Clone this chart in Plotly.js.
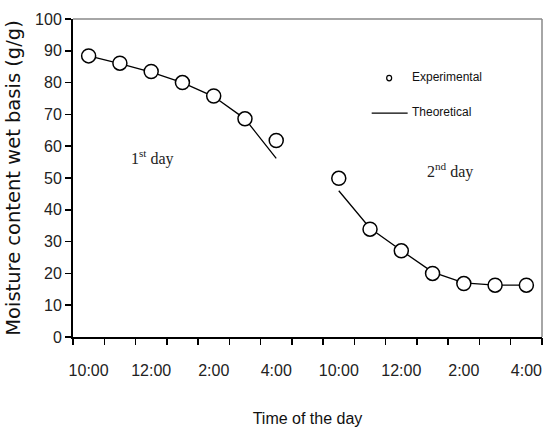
<!DOCTYPE html>
<html>
<head>
<meta charset="utf-8">
<script src="https://cdn.plot.ly/plotly-3.0.1.min.js"></script>
<style>html,body{margin:0;padding:0;background:#fff;}#chart{width:544px;height:432px;}</style>
</head>
<body>
<div id="chart"></div>
<script>
// Time slots (hourly) for each day
var day1Times = ['10:00','11:00','12:00','1:00','2:00','3:00','4:00'];
var day2Times = ['10:00','11:00','12:00','1:00','2:00','3:00','4:00'];
// Experimental moisture content (g/g)
var day1Exp = [88.4, 86.1, 83.5, 80.0, 75.8, 68.6, 61.8];
var day2Exp = [49.9, 33.9, 27.1, 20.0, 16.8, 16.3, 16.3];
// Theoretical moisture content (g/g)
var day1Theo = [88.4, 86.0, 83.3, 80.0, 75.6, 68.6, 56.2];
var day2Theo = [46.0, 34.2, 27.2, 20.4, 17.0, 16.3, 16.3];
// Axis tick labels
var tickLabels = ['10:00','12:00','2:00','4:00','10:00','12:00','2:00','4:00'];
var yTicks = [0,10,20,30,40,50,60,70,80,90,100];

// slot positions: day 1 at 0..6, gap at 7, day 2 at 8..14
var x1 = day1Times.map(function(_, i){ return i; });
var x2 = day2Times.map(function(_, i){ return i + day1Times.length + 1; });
var tickPos = tickLabels.map(function(_, i){ return i * 2; });
var boundaries = [];
for (var b = -0.5; b <= 14.5; b += 1) boundaries.push(b);

var lineStyle = {color: '#000', width: 1.3};
var markerStyle = {symbol: 'circle', size: 14, color: '#fff', line: {color: '#000', width: 1.5}};

var traces = [
  {x: x1, y: day1Theo, mode: 'lines', line: lineStyle, showlegend: false, hoverinfo: 'skip'},
  {x: x2, y: day2Theo, mode: 'lines', line: lineStyle, showlegend: false, hoverinfo: 'skip'},
  {x: x1, y: day1Exp, mode: 'markers', marker: markerStyle, showlegend: false},
  {x: x2, y: day2Exp, mode: 'markers', marker: markerStyle, showlegend: false},
  {x: [0], y: [0], xaxis: 'x2', mode: 'markers', marker: {opacity: 0}, showlegend: false, hoverinfo: 'skip'}
];

var sans = '"Liberation Sans", Arial, sans-serif';
var tickFont = {family: sans, size: 16, color: '#222'};

var layout = {
  width: 544, height: 432,
  margin: {l: 73, r: 1.5, t: 19, b: 95},
  paper_bgcolor: '#fff', plot_bgcolor: '#fff',
  showlegend: false,
  xaxis: {
    range: [-0.5, 14.5], tickmode: 'array', tickvals: tickPos, ticktext: tickLabels,
    ticks: '', showgrid: false, zeroline: false,
    showline: true, linecolor: '#000', linewidth: 2,
    tickfont: tickFont, ticklabelstandoff: 18,
    title: {text: 'Time of the day', font: {family: sans, size: 16, color: '#111'}, standoff: 35}
  },
  xaxis2: {
    overlaying: 'x', range: [-0.5, 14.5], tickmode: 'array', tickvals: boundaries,
    ticks: 'outside', ticklen: 7, tickwidth: 1.5, tickcolor: '#000',
    showticklabels: false, showgrid: false, zeroline: false, showline: false, side: 'bottom'
  },
  yaxis: {
    range: [0, 100], tickmode: 'array', tickvals: yTicks,
    ticks: 'outside', ticklen: 6, tickwidth: 1.5, tickcolor: '#000',
    showgrid: false, zeroline: false, showline: true, linecolor: '#000', linewidth: 2,
    tickfont: tickFont, ticklabelstandoff: 0,
    title: {text: 'Moisture content wet basis (g/g)', font: {family: '"DejaVu Sans", Arial, sans-serif', size: 19.5, color: '#111'}, standoff: 9}
  },
  shapes: [
    {type: 'line', xref: 'paper', yref: 'paper', x0: 0, x1: 1, y0: 1, y1: 1, line: {color: '#888', width: 1.5}},
    {type: 'line', xref: 'paper', yref: 'paper', x0: 1, x1: 1, y0: 0, y1: 1, line: {color: '#888', width: 1.5}},
    // legend symbols
    {type: 'circle', xref: 'paper', yref: 'paper', x0: (387 - 73) / 469.5, x1: (392 - 73) / 469.5, y0: (336.7 - 81) / 317.4, y1: (336.7 - 75.5) / 317.4, line: {color: '#000', width: 1.2}, fillcolor: '#fff'},
    {type: 'line', xref: 'paper', yref: 'paper', x0: (372 - 73) / 469.5, x1: (408 - 73) / 469.5, y0: (336.7 - 113.3) / 317.4, y1: (336.7 - 113.3) / 317.4, line: {color: '#000', width: 1.3}}
  ],
  annotations: [
    {xref: 'paper', yref: 'paper', x: (410 - 73) / 469.5, y: (336.7 - 77.5) / 317.4, xanchor: 'left', yanchor: 'middle', showarrow: false,
     text: 'Experimental', font: {family: sans, size: 12, color: '#111'}},
    {xref: 'paper', yref: 'paper', x: (410 - 73) / 469.5, y: (336.7 - 112.5) / 317.4, xanchor: 'left', yanchor: 'middle', showarrow: false,
     text: 'Theoretical', font: {family: sans, size: 12, color: '#111'}},
    {xref: 'paper', yref: 'paper', x: (153 - 73) / 469.5, y: (336.7 - 158) / 317.4, xanchor: 'center', yanchor: 'middle', showarrow: false,
     text: '1<sup>st</sup> day', font: {family: '"Liberation Serif", "Times New Roman", serif', size: 16, color: '#222'}},
    {xref: 'paper', yref: 'paper', x: (450 - 73) / 469.5, y: (336.7 - 171) / 317.4, xanchor: 'center', yanchor: 'middle', showarrow: false,
     text: '2<sup>nd</sup> day', font: {family: '"Liberation Serif", "Times New Roman", serif', size: 16, color: '#222'}}
  ]
};

Plotly.newPlot('chart', traces, layout, {displayModeBar: false, staticPlot: true});
</script>
</body>
</html>
